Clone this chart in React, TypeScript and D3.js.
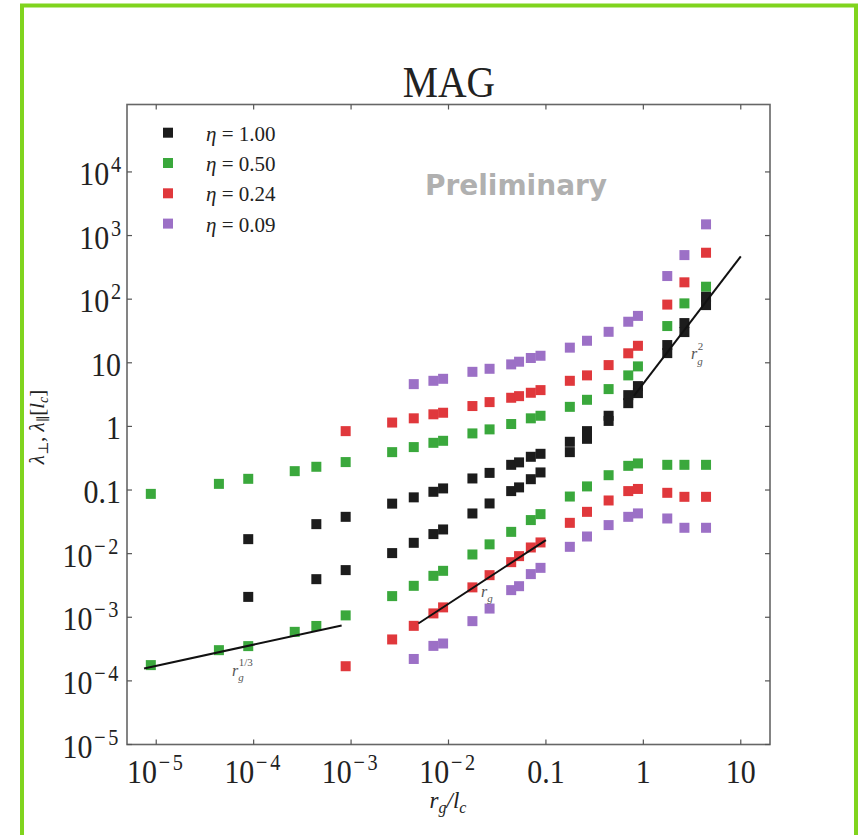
import React from 'react';
import * as d3 from 'd3';

// ---------- data ----------
const rgOverLc = [8.8e-6, 4.4e-5, 8.8e-5, 2.64e-4, 4.4e-4, 8.8e-4, 2.64e-3, 4.4e-3, 7e-3, 8.8e-3, 1.76e-2, 2.64e-2, 4.4e-2, 5.3e-2, 7e-2, 8.8e-2, 0.176, 0.264, 0.44, 0.7, 0.88, 1.76, 2.64, 4.4];

const greenUpper = [0.087, 0.125, 0.15, 0.198, 0.232, 0.275, 0.394, 0.473, 0.552, 0.594, 0.776, 0.898, 1.09, null, 1.34, 1.47, 2.03, 2.62, 3.86, 6.34, 8.78, 37.8, 85.9, 157];
const greenLower = [1.77e-4, 3.04e-4, 3.52e-4, 5.9e-4, 7.3e-4, 1.07e-3, 2.15e-3, 3.12e-3, 4.48e-3, 5.37e-3, 9.7e-3, 1.4e-2, 2.2e-2, null, 3.37e-2, 4.18e-2, 7.9e-2, 0.114, 0.171, 0.24, 0.262, 0.249, 0.249, 0.249];

const blackUpper = [null, null, 0.0169, null, 0.0291, 0.0379, 0.0611, 0.0767, 0.0938, 0.106, 0.152, 0.186, 0.249, 0.272, 0.333, 0.371, 0.573, 0.843, 1.47, 3.1, 4.3, 19.0, 42.1, 109];
const blackLower = [null, null, 2.09e-3, null, 3.97e-3, 5.51e-3, 0.0102, 0.0148, 0.0203, 0.024, 0.0428, 0.0615, 0.0962, 0.11, 0.148, 0.189, 0.394, 0.638, 1.22, 2.32, 3.34, 14.2, 30.4, 80.7];

const redUpper = [null, null, null, null, null, 0.843, 1.15, 1.34, 1.55, 1.64, 2.09, 2.41, 2.82, 2.99, 3.38, 3.72, 5.21, 6.34, 9.2, 14.1, 18.5, 82.2, 184, 537];
const redLower = [null, null, null, null, null, 1.7e-4, 4.48e-4, 7.33e-4, 1.15e-3, 1.43e-3, 2.95e-3, 4.59e-3, 7.35e-3, 9.14e-3, 0.0125, 0.015, 0.0305, 0.0454, 0.0685, 0.0962, 0.104, 0.0904, 0.0782, 0.0782];

const purpleUpper = [null, null, null, null, null, null, null, 4.62, 5.21, 5.6, 7.21, 8.05, 9.44, 10.4, 11.9, 12.9, 17.3, 22.2, 30.7, 44.2, 54.6, 231, 493, 1500];
const purpleLower = [null, null, null, null, null, null, null, 2.21e-4, 3.55e-4, 3.87e-4, 8.69e-4, 1.37e-3, 2.67e-3, 3.08e-3, 4.77e-3, 5.98e-3, 0.0128, 0.0186, 0.0281, 0.0379, 0.0429, 0.0357, 0.0255, 0.0255];

const legendLabels = ['1.00', '0.50', '0.24', '0.09'];
const seriesColors = ['#1c1c1c', '#3aa83c', '#e0383c', '#9c70c6'];

// power-law guide lines: [xStart, xEnd, coefficient, exponent]
const fitThird = [7.5e-6, 8e-4, 0.008, 1 / 3];
const fitOne = [4.9e-3, 0.1, 0.163, 1];
const fitTwo = [0.8, 10, 4.7, 2];

const xTickValues = [1e-5, 1e-4, 1e-3, 1e-2, 0.1, 1, 10];
const xTickLabels: [string, string][] = [['10', '−5'], ['10', '−4'], ['10', '−3'], ['10', '−2'], ['0.1', ''], ['1', ''], ['10', '']];
const yTickValues = [1e-5, 1e-4, 1e-3, 1e-2, 0.1, 1, 10, 100, 1000, 1e4];
const yTickLabels: [string, string][] = [['10', '−5'], ['10', '−4'], ['10', '−3'], ['10', '−2'], ['0.1', ''], ['1', ''], ['10', ''], ['10', '2'], ['10', '3'], ['10', '4']];

// ---------- layout ----------
const W = 863, H = 835;
const L = 127, R = 770, T = 104.5, B = 744.5;
const serif = '"Liberation Serif", "DejaVu Serif", serif';

const x = d3.scaleLog().domain([Math.pow(10, -5.3), Math.pow(10, 1.3)]).range([L, R]);
const y = d3.scaleLog().domain([1e-5, Math.pow(10, 5.06)]).range([B, T]);

function Squares({ upper, lower, color }: { upper: (number | null)[]; lower: (number | null)[]; color: string }) {
  const s = 10;
  const pts: [number, number][] = [];
  rgOverLc.forEach((r, i) => {
    if (upper[i] != null) pts.push([r, upper[i] as number]);
    if (lower[i] != null) pts.push([r, lower[i] as number]);
  });
  return (
    <g>
      {pts.map(([a, b], i) => (
        <rect key={i} x={x(a) - s / 2} y={y(b) - s / 2} width={s} height={s} fill={color} />
      ))}
    </g>
  );
}

function fitPath(f: number[]) {
  const [x0, x1, c, p] = f;
  const line = d3.line<number>().x((v) => x(v)).y((v) => y(c * Math.pow(v, p)));
  return line([x0, x1]) as string;
}

function TickLabel({ tx, ty, base, sup, anchor }: { tx: number; ty: number; base: string; sup: string; anchor: string }) {
  return (
    <g transform={`translate(${tx},${ty}) scale(0.88,1)`}>
      <text x={0} y={0} textAnchor={anchor} fontFamily={serif} fontSize={34} fill="#222">
        {base}
        {sup && (
          <tspan fontSize={23} dy={-13} dx={2} letterSpacing={sup.length > 1 ? 3 : 0}>
            {sup}
          </tspan>
        )}
      </text>
    </g>
  );
}

export default function App() {
  const tickLen = 5;
  return (
    <svg width={W} height={H} style={{ position: 'absolute', left: 0, top: 0, background: '#fff' }}>
      <rect x={0} y={0} width={W} height={H} fill="#fff" />
      {/* outer green frame */}
      <rect x={22} y={5.5} width={834} height={860} fill="none" stroke="#80d41e" strokeWidth={4} />

      {/* title */}
      <g transform={`translate(449,96.5) scale(0.9,1)`}>
        <text textAnchor="middle" fontFamily={serif} fontSize={44} fill="#222">MAG</text>
      </g>

      {/* Preliminary */}
      <text x={516} y={195} textAnchor="middle" fontFamily='"DejaVu Sans", sans-serif' fontWeight="bold" fontSize={28} fill="#b0b0b0">
        Preliminary
      </text>

      {/* frame */}
      <rect x={L} y={T} width={R - L} height={B - T} fill="none" stroke="#666" strokeWidth={1.6} />

      {/* ticks */}
      {xTickValues.map((v, i) => (
        <g key={'xt' + i}>
          <line x1={x(v)} x2={x(v)} y1={B} y2={B - tickLen} stroke="#555" strokeWidth={1.2} />
          <line x1={x(v)} x2={x(v)} y1={T} y2={T + tickLen} stroke="#555" strokeWidth={1.2} />
          <TickLabel tx={x(v)} ty={783} base={xTickLabels[i][0]} sup={xTickLabels[i][1]} anchor="middle" />
        </g>
      ))}
      {yTickValues.map((v, i) => (
        <g key={'yt' + i}>
          <line x1={L} x2={L + tickLen} y1={y(v)} y2={y(v)} stroke="#555" strokeWidth={1.2} />
          <line x1={R} x2={R - tickLen} y1={y(v)} y2={y(v)} stroke="#555" strokeWidth={1.2} />
          <TickLabel tx={121} ty={y(v) + 13} base={yTickLabels[i][0]} sup={yTickLabels[i][1]} anchor="end" />
        </g>
      ))}

      {/* axis titles */}
      <text x={448} y={808} textAnchor="middle" fontFamily={serif} fontStyle="italic" fontSize={23} fill="#222">
        r<tspan fontSize={16} dy={5}>g</tspan>
        <tspan fontSize={23} dy={-5}>/l</tspan>
        <tspan fontSize={16} dy={5}>c</tspan>
      </text>
      <g transform="translate(44,427) rotate(-90)">
        <text textAnchor="middle" fontFamily={serif} fontSize={21} fill="#222">
          <tspan fontStyle="italic">λ</tspan>
          <tspan fontSize={14} dy={4}>⊥</tspan>
          <tspan dy={-4}>, </tspan>
          <tspan fontStyle="italic">λ</tspan>
          <tspan fontSize={14} dy={4}>∥</tspan>
          <tspan dy={-4}>[</tspan>
          <tspan fontStyle="italic">l</tspan>
          <tspan fontSize={14} dy={4} fontStyle="italic">c</tspan>
          <tspan dy={-4}>]</tspan>
        </text>
      </g>

      {/* data */}
      <Squares upper={purpleUpper} lower={purpleLower} color={seriesColors[3]} />
      <Squares upper={redUpper} lower={redLower} color={seriesColors[2]} />
      <Squares upper={greenUpper} lower={greenLower} color={seriesColors[1]} />
      <Squares upper={blackUpper} lower={blackLower} color={seriesColors[0]} />

      {/* guide lines */}
      {[fitThird, fitOne, fitTwo].map((f, i) => (
        <path key={'f' + i} d={fitPath(f)} fill="none" stroke="#111" strokeWidth={2} />
      ))}

      {/* guide labels */}
      <text x={232} y={676} fontFamily={serif} fontStyle="italic" fontSize={16} fill="#555">
        r<tspan fontSize={11} dy={5}>g</tspan>
        <tspan fontSize={11} dy={-15} dx={-5} fontStyle="normal">1/3</tspan>
      </text>
      <text x={481} y={597} fontFamily={serif} fontStyle="italic" fontSize={16} fill="#555">
        r<tspan fontSize={11} dy={5}>g</tspan>
      </text>
      <text x={691} y={359} fontFamily={serif} fontStyle="italic" fontSize={16} fill="#555">
        r<tspan fontSize={11} dy={6}>g</tspan>
        <tspan fontSize={11} dy={-15} dx={-5} fontStyle="normal">2</tspan>
      </text>

      {/* legend */}
      {legendLabels.map((lab, i) => {
        const cy = 132.7 + i * 30.3;
        return (
          <g key={'lg' + i}>
            <rect x={168 - 5} y={cy - 5} width={10} height={10} fill={seriesColors[i]} />
            <text x={206} y={cy + 8} fontFamily={serif} fontSize={21} fill="#222">
              <tspan fontStyle="italic">η</tspan> = {lab}
            </text>
          </g>
        );
      })}
    </svg>
  );
}
